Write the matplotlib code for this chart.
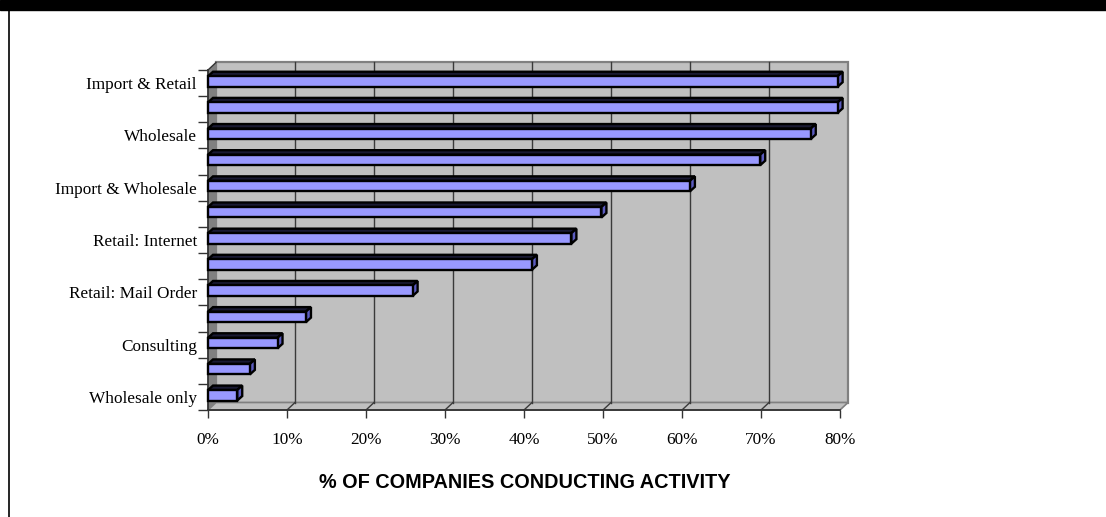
import matplotlib.pyplot as plt
from matplotlib.patches import Polygon, Rectangle
from matplotlib.lines import Line2D

# activities top to bottom; only every other one carries a label on the axis
activities = ['Import & Retail', '', 'Wholesale', '', 'Import & Wholesale', '',
              'Retail: Internet', '', 'Retail: Mail Order', '', 'Consulting', '',
              'Wholesale only']
pct = [79.7, 79.7, 76.3, 69.9, 61.0, 49.8, 46.0, 41.0, 25.9, 12.4, 8.8, 5.3, 3.7]
xticks = [0, 10, 20, 30, 40, 50, 60, 70, 80]
xlabels = [f'{t}%' for t in xticks]

W, H = 1106, 517
fig = plt.figure(figsize=(W / 100, H / 100), dpi=100)

# page frame: black band on top, rule on the left
fig.patches.append(Rectangle((0, 1 - 10 / H), 1, 10 / H, transform=fig.transFigure,
                             color='black', zorder=0))
fig.add_artist(Line2D([8.5 / W] * 2, [0, 1 - 10 / H], color='black', lw=1.2))

left, right, top, bottom = 208, 840, 70, 410
ax = fig.add_axes([left / W, 1 - bottom / H, (right - left) / W, (bottom - top) / H])
n = len(pct)
xmax = xticks[-1]
ax.set_xlim(0, xmax)
ax.set_ylim(0, n)
ax.patch.set_visible(False)

# one pixel in data units, used for the 3-D depth
px_x = xmax / (right - left)
px_y = n / (bottom - top)
DX, DY = 8 * px_x, 7.5 * px_y

wall = '#c0c0c0'
edge = '#808080'
ax.add_patch(Polygon([(DX, DY), (xmax + DX, DY), (xmax + DX, n + DY), (DX, n + DY)],
                     fc=wall, ec=edge, lw=1.6, clip_on=False, zorder=0.5))
ax.add_patch(Polygon([(0, 0), (DX, DY), (DX, n + DY), (0, n)],
                     fc=edge, ec='none', clip_on=False, zorder=0.6))
ax.add_patch(Polygon([(0, 0), (xmax, 0), (xmax + DX, DY), (DX, DY)],
                     fc=wall, ec=edge, lw=1.2, clip_on=False, zorder=0.6))
ax.plot([0, DX], [n, n + DY], color='#333333', lw=1, clip_on=False, zorder=0.7)

for t in xticks[1:-1]:
    ax.plot([t + DX] * 2, [DY, n + DY], color='#3a3a3a', lw=1, zorder=0.8, clip_on=False)
    ax.plot([t, t + DX], [0, DY], color='#3a3a3a', lw=1, zorder=0.8, clip_on=False)

# bars: front face, top face and end face
h = 10.5 * px_y
dx, dy = 5 * px_x, 4.5 * px_y
shift = 1.6 * px_y
for i, v in enumerate(pct):
    yc = n - i - 0.5 + shift
    y0, y1 = yc - h / 2, yc + h / 2
    ax.add_patch(Polygon([(0, y1), (v, y1), (v + dx, y1 + dy), (dx, y1 + dy)],
                         fc='#1a1a33', ec='black', lw=1.7, zorder=3, clip_on=False))
    ax.add_patch(Polygon([(v, y0), (v + dx, y0 + dy), (v + dx, y1 + dy), (v, y1)],
                         fc='#5c5cc0', ec='black', lw=1.7, zorder=3, clip_on=False))
    ax.add_patch(Rectangle((0, y0), v, h, fc='#9999ff', ec='black', lw=1.7,
                           zorder=4, clip_on=False))

for s in ['top', 'right']:
    ax.spines[s].set_visible(False)
for s in ['left', 'bottom']:
    ax.spines[s].set_color('#333333')
    ax.spines[s].set_linewidth(1.3)
    ax.spines[s].set_zorder(2)

serif = {'family': 'Liberation Serif', 'size': 12.4}
centers = [n - i - 0.5 for i in range(n) if activities[i]]
ax.set_yticks(centers, [a for a in activities if a], fontdict=serif)
ax.set_yticks(range(n + 1), minor=True)
ax.tick_params(axis='y', which='major', length=0, pad=8)
ax.tick_params(axis='y', which='minor', length=7, width=1, color='#333333')
ax.set_xticks(xticks, xlabels, fontdict=serif)
ax.tick_params(axis='x', length=6, width=1, color='#333333', pad=10)

fig.text(525 / W, 1 - 483 / H, '% OF COMPANIES CONDUCTING ACTIVITY',
         family='Liberation Sans', weight='bold', size=14.3, ha='center', va='center')

fig.savefig('out.png', dpi=100)
